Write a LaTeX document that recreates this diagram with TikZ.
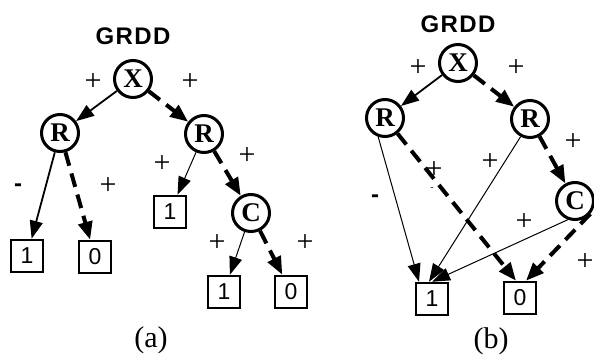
\documentclass[tikz,border=0pt]{standalone}
\usepackage{fontspec}
\newfontfamily\timesface{Liberation Serif}
\newfontfamily\arialface{Liberation Sans}
\usetikzlibrary{arrows.meta}

\begin{document}
\begin{tikzpicture}[x=1pt,y=-1pt,
  var/.style={circle,draw,line width=3pt,minimum size=37pt,inner sep=0pt,
    font=\timesface\bfseries\fontsize{27}{27}\selectfont},
  leaf/.style={rectangle,draw,line width=2.5pt,minimum size=32pt,inner sep=0pt,
    font=\arialface\fontsize{23}{23}\selectfont},
  sign/.style={inner sep=0pt,font=\timesface\fontsize{30}{30}\selectfont},
  minus/.style={inner sep=0pt,font=\arialface\bfseries\fontsize{24}{24}\selectfont},
  tiny/.style={inner sep=0pt,font=\timesface\fontsize{10}{10}\selectfont},
  title/.style={inner sep=0pt,font=\arialface\bfseries\fontsize{24}{24}\selectfont\addfontfeature{LetterSpace=6}},
  caption/.style={inner sep=0pt,font=\timesface\fontsize{30}{30}\selectfont},
  hiedge/.style={line width=1.8pt,-{Triangle[length=18pt,width=13pt]}},
  hithin/.style={line width=1pt,-{Triangle[length=18pt,width=13pt]}},
  loedge/.style={line width=4pt,dash pattern=on 14pt off 8pt,-{Triangle[length=18pt,width=14pt]}}
]
\useasboundingbox (0,0) rectangle (594,356);

% ---------- (a): tree form ----------
\node[title] (ta) at (133,36) {GRDD};
\node[var] (ax) at (133,79) {X};
\node[var] (arl) at (60,133) {R};
\node[var] (arr) at (204,134) {R};
\node[var] (ac) at (251,213) {C};
\node[leaf] (a1l) at (27,256) {1};
\node[leaf] (a0l) at (95,257) {0};
\node[leaf] (a1m) at (170,212) {1};
\node[leaf] (a1c) at (224,292) {1};
\node[leaf] (a0c) at (291,292) {0};

\draw[hiedge] (ax) -- (arl);
\draw[loedge] (ax) -- (arr);
\draw[hiedge] (arl) -- (a1l);
\draw[loedge] (arl) -- (a0l);
\draw[hithin] (arr) -- (a1m);
\draw[loedge] (arr) -- (ac);
\draw[hithin] (ac) -- (a1c);
\draw[loedge] (ac) -- (a0c);

\node[sign] (sa1) at (93,82) {+};
\node[sign] (sa2) at (190,82) {+};
\node[minus] (sa3) at (18,188) {-};
\node[sign] (sa4) at (108,186) {+};
\node[sign] (sa5) at (162,164) {+};
\node[sign] (sa6) at (247,156) {+};
\node[sign] (sa7) at (217,243) {+};
\node[sign] (sa8) at (305,243) {+};
\node[caption] (capa) at (151,340) {(a)};

% ---------- (b): shared terminals ----------
\node[title] (tb) at (458,24) {GRDD};
\node[var] (bx) at (458,63) {X};
\node[var] (brl) at (385,118) {R};
\node[var] (brr) at (530,119) {R};
\node[var] (bc) at (575,201) {C};
\node[leaf] (b1) at (432,299) {1};
\node[leaf] (b0) at (520,298) {0};

\draw[hiedge] (bx) -- (brl);
\draw[loedge] (bx) -- (brr);
\draw[hithin] (brl.-110) -- ([xshift=-13pt]b1.north);
\draw[loedge] (brl) -- ([xshift=-4pt]b0.north);
\draw[hithin] (brr.-118) -- ([xshift=-3pt]b1.north);
\draw[loedge] (brr) -- (bc);
\draw[hithin] (bc.-111) -- (b1.north);
\draw[loedge] (bc.-40) -- ([xshift=6pt]b0.north);

\node[sign] (sb1) at (418,68) {+};
\node[sign] (sb2) at (516,68) {+};
\node[sign] (sb3) at (573,142) {+};
\node[sign] (sb4) at (490,162) {+};
\node[sign] (sb5) at (434,170) {+};
\node[tiny] (sb6) at (432,189) {-};
\node[minus] (sb7) at (375,199) {-};
\node[sign] (sb8) at (524,222) {+};
\node[sign] (sb9) at (585,262) {+};
\node[caption] (capb) at (491,341) {(b)};
\end{tikzpicture}
\end{document}
